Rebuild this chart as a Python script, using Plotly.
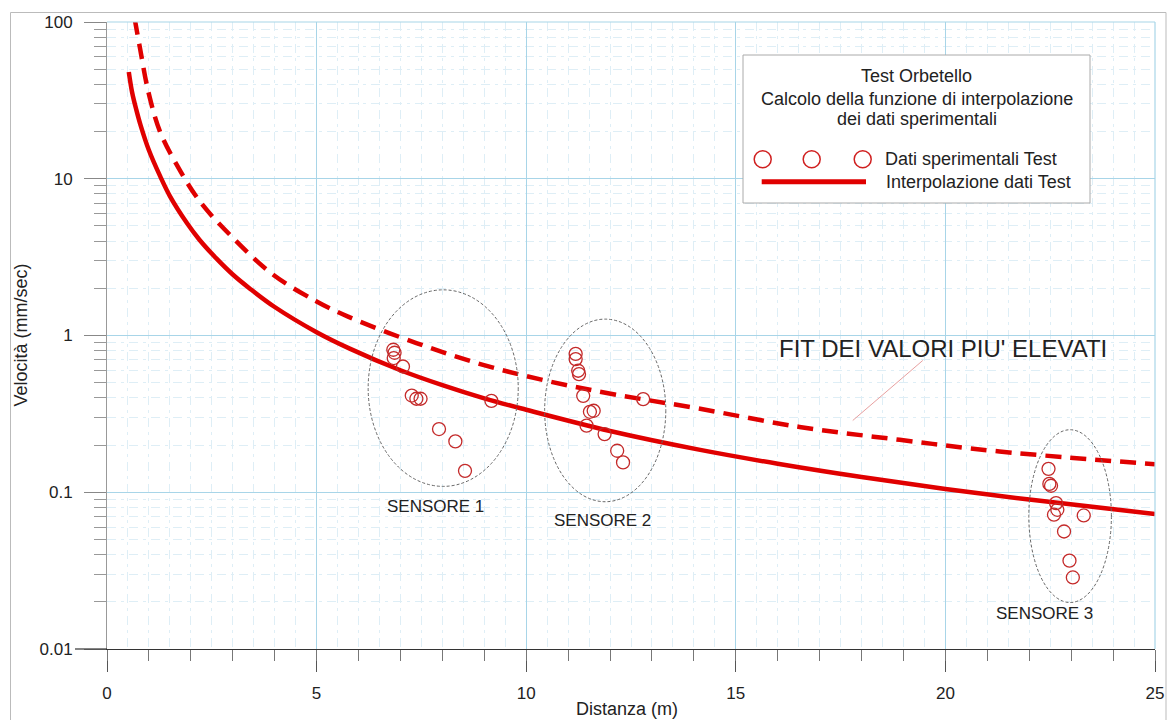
import numpy as np
import plotly.graph_objects as go

# ---------------- data ----------------
fit_x = [0.52, 0.6, 0.7, 0.8, 1.0, 1.27, 1.5, 1.91, 2.2, 2.62, 3.0, 3.41, 4.0, 5.0,
         5.79, 7.0, 8.0, 9.0, 10.0, 12.0, 14.12, 16.0, 18.0, 20.0, 22.0, 25.0]
fit_y = [48.0, 35.5, 27.5, 22.0, 15.2, 10.35, 7.75, 5.2, 4.10, 3.08, 2.45, 1.99, 1.52, 1.05,
         0.825, 0.60, 0.482, 0.397, 0.336, 0.246, 0.187, 0.152, 0.125, 0.105, 0.0898, 0.0727]

upper_x = [0.66, 0.787, 0.985, 1.264, 1.662, 2.217, 3.011, 3.965, 5.0, 5.75, 7.38, 8.97,
           10.56, 12.15, 14.06, 16.52, 18.91, 21.29, 25.0]
upper_y = [105.0, 68.1, 36.0, 20.0, 12.3, 7.16, 4.18, 2.44, 1.65, 1.32, 0.895, 0.65,
           0.509, 0.419, 0.344, 0.261, 0.216, 0.182, 0.151]

sens1_x = [6.83, 6.86, 6.84, 7.06, 7.27, 7.38, 7.48, 9.17, 7.92, 8.31, 8.54]
sens1_y = [0.811, 0.776, 0.718, 0.634, 0.414, 0.395, 0.395, 0.383, 0.253, 0.211, 0.137]
sens2_x = [11.18, 11.18, 11.24, 11.26, 11.36, 11.52, 11.61, 11.44, 11.87, 12.17, 12.31, 12.79]
sens2_y = [0.764, 0.707, 0.596, 0.567, 0.412, 0.326, 0.331, 0.266, 0.235, 0.184, 0.155, 0.393]
sens3_x = [22.46, 22.48, 22.52, 22.64, 22.67, 22.59, 23.30, 22.83, 22.96, 23.04]
sens3_y = [0.141, 0.113, 0.110, 0.0853, 0.0773, 0.0719, 0.0711, 0.0562, 0.0366, 0.0286]

# sensor groups: label, label position, ellipse bounds (x0, x1, y_low, y_high)
sensor_names = ["SENSORE 1", "SENSORE 2", "SENSORE 3"]
sensor_label_x = [7.84, 11.83, 22.37]
sensor_label_y = [0.0808, 0.0658, 0.01675]
ellipse_x0 = [6.23, 10.44, 21.99]
ellipse_x1 = [9.81, 13.33, 23.96]
ellipse_ylo = [0.109, 0.087, 0.0198]
ellipse_yhi = [1.956, 1.272, 0.2505]

y_tickvals = [0.01, 0.1, 1, 10, 100]
y_ticktext = ["0.01", "0.1", "1", "10", "100"]

FONT = "Liberation Sans, Arial, sans-serif"
RED = "#e00000"
MRED = "#c42a2a"
GRID = "#a8d5e8"
MINOR = "#deeef6"
TXT = "#222222"

data_x = sens1_x + sens2_x + sens3_x
data_y = sens1_y + sens2_y + sens3_y

fig = go.Figure()
fig.add_trace(go.Scatter(x=upper_x, y=upper_y, mode="lines",
                         line=dict(color=RED, width=4.5, dash="16px,9px", shape="spline"),
                         hoverinfo="skip"))
fig.add_trace(go.Scatter(x=fit_x, y=fit_y, mode="lines",
                         line=dict(color=RED, width=4.5, shape="spline"), hoverinfo="skip"))
fig.add_trace(go.Scatter(x=data_x, y=data_y, mode="markers",
                         marker=dict(symbol="circle-open", size=13,
                                     line=dict(color=MRED, width=1.3), color=MRED)))
# invisible trace to carry the integer minor ticks axis
fig.add_trace(go.Scatter(x=[0, 25], y=[0.01, 0.01], xaxis="x2", mode="lines",
                         line=dict(width=0), hoverinfo="skip", opacity=0))

# page (screenshot) pixel geometry; body margin is removed by the post script
OFF = 0
W, H = 1169, 720
L, T = 107 - OFF, 22 - OFF
R = W - (1155 - OFF)
B = H - (649 - OFF)
PW, PH = W - L - R, H - T - B


def px(xp):
    return (xp - OFF - L) / PW


def py(yp):
    return 1 - (yp - OFF - T) / PH


shapes = []
# outer border
shapes.append(dict(type="rect", xref="paper", yref="paper", x0=px(10.5), x1=px(1166),
                   y0=py(730), y1=py(12.5), line=dict(color="#bbbbbb", width=1), layer="below"))
# right and top borders of plot
shapes.append(dict(type="line", xref="paper", yref="paper", x0=1, x1=1, y0=0, y1=1,
                   line=dict(color=GRID, width=1.2)))
shapes.append(dict(type="line", xref="paper", yref="paper", x0=0, x1=1, y0=1, y1=1,
                   line=dict(color=GRID, width=1.2)))
# x axis line extending left
shapes.append(dict(type="line", xref="paper", yref="paper", x0=px(75), x1=0, y0=0, y1=0,
                   line=dict(color="#333333", width=1.2)))
# sensor ellipses
for i in range(3):
    shapes.append(dict(type="circle", xref="x", yref="y", x0=ellipse_x0[i], x1=ellipse_x1[i],
                       y0=ellipse_ylo[i], y1=ellipse_yhi[i],
                       line=dict(color="#666666", width=1, dash="3px,2px")))
# pointer line for the upper fit label
shapes.append(dict(type="line", xref="x", yref="y", x0=17.79, y0=0.287, x1=19.46, y1=0.693,
                   line=dict(color="#e8a0a0", width=1)))
# legend box
shapes.append(dict(type="rect", xref="paper", yref="paper", x0=px(743), x1=px(1090),
                   y0=py(203), y1=py(55), line=dict(color="#aaaaaa", width=1),
                   fillcolor="white", layer="above"))
for cx in [762.7, 811.7, 862.7]:
    shapes.append(dict(type="circle", xref="paper", yref="paper", xsizemode="pixel",
                       ysizemode="pixel", xanchor=px(cx), yanchor=py(159.3),
                       x0=-8.5, x1=8.5, y0=-8.5, y1=8.5,
                       line=dict(color="#d02020", width=1.5), layer="above"))
shapes.append(dict(type="line", xref="paper", yref="paper", x0=px(761.7), x1=px(866),
                   y0=py(181.7), y1=py(181.7), line=dict(color=RED, width=5), layer="above"))

annotations = []
for i in range(3):
    annotations.append(dict(x=sensor_label_x[i], y=np.log10(sensor_label_y[i]), xref="x",
                            yref="y", text=sensor_names[i], showarrow=False,
                            font=dict(family=FONT, size=17, color=TXT)))
annotations.append(dict(x=19.95, y=np.log10(0.831), xref="x", yref="y",
                        text="FIT DEI VALORI PIU' ELEVATI", showarrow=False,
                        font=dict(family=FONT, size=24, color=TXT)))
# legend texts
for txt, yy in [("Test Orbetello", 76), ("Calcolo della funzione di interpolazione", 99),
                ("dei dati sperimentali", 119)]:
    annotations.append(dict(x=px(916.5), y=py(yy), xref="paper", yref="paper", text=txt,
                            showarrow=False, xanchor="center", yanchor="middle",
                            font=dict(family=FONT, size=18, color=TXT)))
annotations.append(dict(x=px(883), y=py(159.3), xref="paper", yref="paper",
                        text="Dati sperimentali Test", showarrow=False, xanchor="left",
                        yanchor="middle", font=dict(family=FONT, size=18, color=TXT)))
annotations.append(dict(x=px(884), y=py(181.7), xref="paper", yref="paper",
                        text="Interpolazione dati Test", showarrow=False, xanchor="left",
                        yanchor="middle", font=dict(family=FONT, size=18, color=TXT)))
# axis titles
annotations.append(dict(x=px(20), y=py(335.5), xref="paper", yref="paper",
                        text="Velocità (mm/sec)", textangle=-90, showarrow=False,
                        xanchor="center", yanchor="middle",
                        font=dict(family=FONT, size=18, color=TXT)))
annotations.append(dict(x=px(627), y=py(709), xref="paper", yref="paper",
                        text="Distanza (m)", showarrow=False, xanchor="center",
                        yanchor="middle", font=dict(family=FONT, size=18, color=TXT)))

fig.update_layout(
    width=W, height=H, margin=dict(l=L, r=R, t=T, b=B, pad=0, autoexpand=False),
    autosize=False,
    paper_bgcolor="white", plot_bgcolor="white", showlegend=False,
    font=dict(family=FONT, size=17, color=TXT),
    xaxis=dict(range=[0, 25], tick0=0, dtick=5, ticks="outside", ticklen=22,
               tickcolor="#555555", tickwidth=1, showline=True, linecolor="#333333",
               linewidth=1.2, showgrid=True, gridcolor=GRID, gridwidth=1, zeroline=False,
               automargin=False,
               tickfont=dict(family=FONT, size=17, color=TXT), ticklabelstandoff=6,
               minor=dict(dtick=0.5, tick0=0, showgrid=True, gridcolor=MINOR,
                          griddash="9px,5px,3px,5px", ticks="")),
    xaxis2=dict(range=[0, 25], overlaying="x", anchor="y", side="bottom", tick0=0, dtick=1,
                ticks="outside", ticklen=11, tickcolor="#777777", showticklabels=False,
                showgrid=False, showline=False, zeroline=False, automargin=False),
    yaxis=dict(type="log", range=[-2, 2], tickmode="array", tickvals=y_tickvals,
               ticktext=y_ticktext, ticks="outside", ticklen=22, tickcolor="#888888",
               showline=True, linecolor="#999999", linewidth=1, showgrid=True,
               gridcolor=GRID, gridwidth=1, zeroline=False, ticklabelstandoff=8,
               automargin=False,
               tickfont=dict(family=FONT, size=17, color=TXT),
               minor=dict(ticks="outside", ticklen=12, dtick="D1", tickcolor="#999999",
                          showgrid=True, gridcolor=MINOR, griddash="9px,5px,3px,5px")),
    shapes=shapes, annotations=annotations,
)

fig.write_html("out.html", config={"displayModeBar": False},
               post_script="document.body.style.margin='0';"
                           "document.body.style.overflow='hidden';")
